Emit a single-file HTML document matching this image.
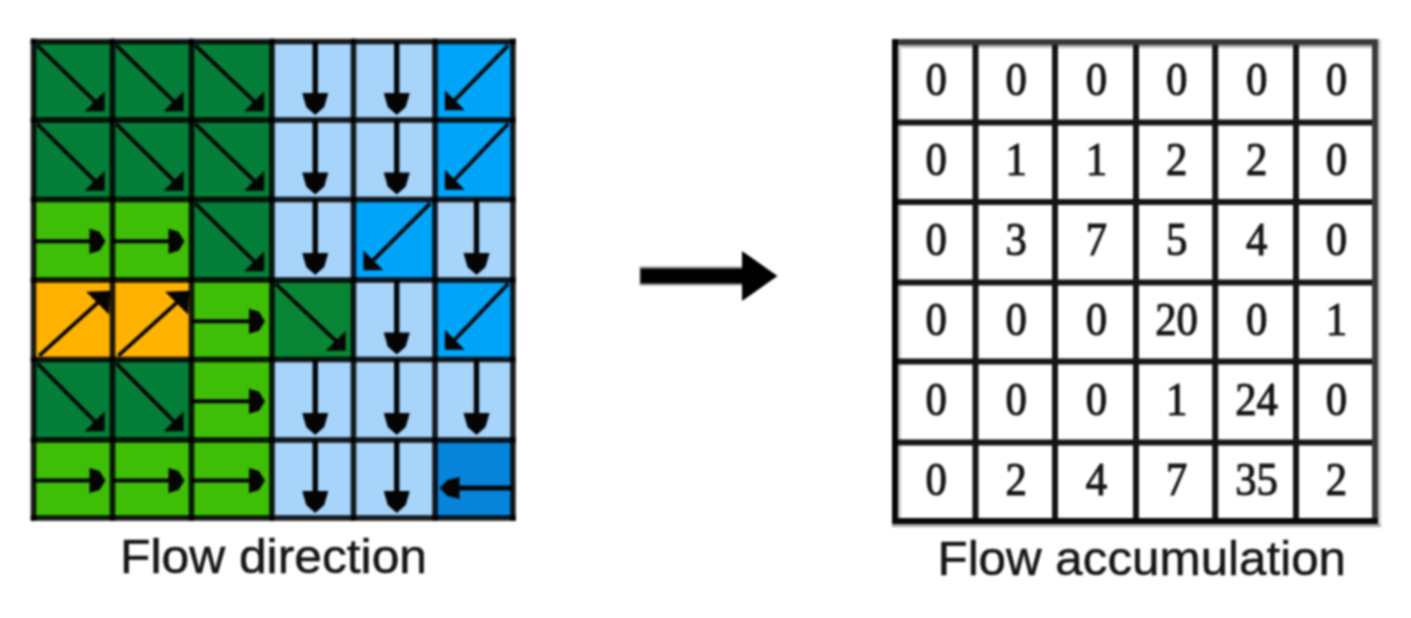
<!DOCTYPE html>
<html><head><meta charset="utf-8"><style>
html,body{margin:0;padding:0;background:#fff;width:1411px;height:618px;overflow:hidden}
svg{display:block;filter:blur(0.9px)}
.n{font-family:"Liberation Serif",serif;font-size:46px;text-anchor:middle;fill:#151515;stroke:#151515;stroke-width:1.1px}
.lab{font-family:"Liberation Sans",sans-serif;font-size:48px;fill:#151515;stroke:#151515;stroke-width:0.5px}
</style></head><body>
<svg width="1411" height="618" viewBox="0 0 1411 618">
<rect x="33.5" y="41.5" width="79" height="78.5" fill="rgb(4,126,56)"/>
<rect x="112.5" y="41.5" width="79" height="78.5" fill="rgb(4,126,56)"/>
<rect x="191.5" y="41.5" width="80.5" height="78.5" fill="rgb(4,126,56)"/>
<rect x="272" y="41.5" width="81.5" height="78.5" fill="rgb(167,212,251)"/>
<rect x="353.5" y="41.5" width="81.5" height="78.5" fill="rgb(167,212,251)"/>
<rect x="435" y="41.5" width="78" height="78.5" fill="rgb(0,165,250)"/>
<rect x="33.5" y="120" width="79" height="79.5" fill="rgb(4,126,56)"/>
<rect x="112.5" y="120" width="79" height="79.5" fill="rgb(4,126,56)"/>
<rect x="191.5" y="120" width="80.5" height="79.5" fill="rgb(4,126,56)"/>
<rect x="272" y="120" width="81.5" height="79.5" fill="rgb(167,212,251)"/>
<rect x="353.5" y="120" width="81.5" height="79.5" fill="rgb(167,212,251)"/>
<rect x="435" y="120" width="78" height="79.5" fill="rgb(0,165,250)"/>
<rect x="33.5" y="199.5" width="79" height="80.5" fill="rgb(62,190,6)"/>
<rect x="112.5" y="199.5" width="79" height="80.5" fill="rgb(62,190,6)"/>
<rect x="191.5" y="199.5" width="80.5" height="80.5" fill="rgb(4,126,56)"/>
<rect x="272" y="199.5" width="81.5" height="80.5" fill="rgb(167,212,251)"/>
<rect x="353.5" y="199.5" width="81.5" height="80.5" fill="rgb(0,165,250)"/>
<rect x="435" y="199.5" width="78" height="80.5" fill="rgb(167,212,251)"/>
<rect x="33.5" y="280" width="79" height="79.5" fill="rgb(255,178,0)"/>
<rect x="112.5" y="280" width="79" height="79.5" fill="rgb(255,178,0)"/>
<rect x="191.5" y="280" width="80.5" height="79.5" fill="rgb(62,190,6)"/>
<rect x="272" y="280" width="81.5" height="79.5" fill="rgb(8,134,53)"/>
<rect x="353.5" y="280" width="81.5" height="79.5" fill="rgb(167,212,251)"/>
<rect x="435" y="280" width="78" height="79.5" fill="rgb(0,165,250)"/>
<rect x="33.5" y="359.5" width="79" height="80.5" fill="rgb(4,126,56)"/>
<rect x="112.5" y="359.5" width="79" height="80.5" fill="rgb(4,126,56)"/>
<rect x="191.5" y="359.5" width="80.5" height="80.5" fill="rgb(62,190,6)"/>
<rect x="272" y="359.5" width="81.5" height="80.5" fill="rgb(167,212,251)"/>
<rect x="353.5" y="359.5" width="81.5" height="80.5" fill="rgb(167,212,251)"/>
<rect x="435" y="359.5" width="78" height="80.5" fill="rgb(167,212,251)"/>
<rect x="33.5" y="440" width="79" height="78" fill="rgb(62,190,6)"/>
<rect x="112.5" y="440" width="79" height="78" fill="rgb(62,190,6)"/>
<rect x="191.5" y="440" width="80.5" height="78" fill="rgb(62,190,6)"/>
<rect x="272" y="440" width="81.5" height="78" fill="rgb(167,212,251)"/>
<rect x="353.5" y="440" width="81.5" height="78" fill="rgb(167,212,251)"/>
<rect x="435" y="440" width="78" height="78" fill="rgb(5,132,218)"/>
<line x1="37.3" y1="45.3" x2="98.7" y2="105.2" stroke="#050505" stroke-width="3.8"/>
<polygon points="104.7,111.2 104.7,91.2 84.7,111.2" fill="#050505"/>
<line x1="116.3" y1="45.3" x2="177.7" y2="105.2" stroke="#050505" stroke-width="3.8"/>
<polygon points="183.7,111.2 183.7,91.2 163.7,111.2" fill="#050505"/>
<line x1="195.3" y1="45.3" x2="258.2" y2="105.2" stroke="#050505" stroke-width="3.8"/>
<polygon points="264.2,111.2 264.2,91.2 244.2,111.2" fill="#050505"/>
<line x1="315.25" y1="41.5" x2="315.25" y2="105" stroke="#050505" stroke-width="5.4"/>
<polygon points="302.25,93 328.25,93 324.25,107 315.25,115 306.25,107" fill="#050505"/>
<line x1="396.75" y1="41.5" x2="396.75" y2="105" stroke="#050505" stroke-width="5.4"/>
<polygon points="383.75,93 409.75,93 405.75,107 396.75,115 387.75,107" fill="#050505"/>
<line x1="508.2" y1="45.3" x2="450.8" y2="104.2" stroke="#050505" stroke-width="3.8"/>
<polygon points="444.8,110.2 444.8,90.2 464.8,110.2" fill="#050505"/>
<line x1="37.3" y1="123.8" x2="98.7" y2="184.7" stroke="#050505" stroke-width="3.8"/>
<polygon points="104.7,190.7 104.7,170.7 84.7,190.7" fill="#050505"/>
<line x1="116.3" y1="123.8" x2="177.7" y2="184.7" stroke="#050505" stroke-width="3.8"/>
<polygon points="183.7,190.7 183.7,170.7 163.7,190.7" fill="#050505"/>
<line x1="195.3" y1="123.8" x2="258.2" y2="184.7" stroke="#050505" stroke-width="3.8"/>
<polygon points="264.2,190.7 264.2,170.7 244.2,190.7" fill="#050505"/>
<line x1="315.25" y1="120" x2="315.25" y2="184.5" stroke="#050505" stroke-width="5.4"/>
<polygon points="302.25,172.5 328.25,172.5 324.25,186.5 315.25,194.5 306.25,186.5" fill="#050505"/>
<line x1="396.75" y1="120" x2="396.75" y2="184.5" stroke="#050505" stroke-width="5.4"/>
<polygon points="383.75,172.5 409.75,172.5 405.75,186.5 396.75,194.5 387.75,186.5" fill="#050505"/>
<line x1="508.2" y1="123.8" x2="450.8" y2="183.7" stroke="#050505" stroke-width="3.8"/>
<polygon points="444.8,189.7 444.8,169.7 464.8,189.7" fill="#050505"/>
<line x1="33.5" y1="241.25" x2="97.5" y2="241.25" stroke="#050505" stroke-width="4.2"/>
<polygon points="89.5,228.75 99.5,231.75 105.5,241.25 99.5,250.75 89.5,253.75" fill="#050505"/>
<line x1="112.5" y1="241.25" x2="176.5" y2="241.25" stroke="#050505" stroke-width="4.2"/>
<polygon points="168.5,228.75 178.5,231.75 184.5,241.25 178.5,250.75 168.5,253.75" fill="#050505"/>
<line x1="195.3" y1="203.3" x2="258.2" y2="265.2" stroke="#050505" stroke-width="3.8"/>
<polygon points="264.2,271.2 264.2,251.2 244.2,271.2" fill="#050505"/>
<line x1="315.25" y1="199.5" x2="315.25" y2="265" stroke="#050505" stroke-width="5.4"/>
<polygon points="302.25,253 328.25,253 324.25,267 315.25,275 306.25,267" fill="#050505"/>
<line x1="430.2" y1="203.3" x2="369.3" y2="264.2" stroke="#050505" stroke-width="3.8"/>
<polygon points="363.3,270.2 363.3,250.2 383.3,270.2" fill="#050505"/>
<line x1="476.5" y1="199.5" x2="476.5" y2="265" stroke="#050505" stroke-width="5.4"/>
<polygon points="463.5,253 489.5,253 485.5,267 476.5,275 467.5,267" fill="#050505"/>
<line x1="39.3" y1="355.7" x2="104.2" y2="296.8" stroke="#050505" stroke-width="3.8"/>
<polygon points="110.2,290.8 86.2,291.8 109.2,314.8" fill="#050505"/>
<line x1="118.3" y1="355.7" x2="183.2" y2="296.8" stroke="#050505" stroke-width="3.8"/>
<polygon points="189.2,290.8 165.2,291.8 188.2,314.8" fill="#050505"/>
<line x1="191.5" y1="321.25" x2="257" y2="321.25" stroke="#050505" stroke-width="4.2"/>
<polygon points="249,308.75 259,311.75 265,321.25 259,330.75 249,333.75" fill="#050505"/>
<line x1="275.8" y1="283.8" x2="339.7" y2="344.7" stroke="#050505" stroke-width="3.8"/>
<polygon points="345.7,350.7 345.7,330.7 325.7,350.7" fill="#050505"/>
<line x1="396.75" y1="280" x2="396.75" y2="344.5" stroke="#050505" stroke-width="5.4"/>
<polygon points="383.75,332.5 409.75,332.5 405.75,346.5 396.75,354.5 387.75,346.5" fill="#050505"/>
<line x1="508.2" y1="283.8" x2="450.8" y2="343.7" stroke="#050505" stroke-width="3.8"/>
<polygon points="444.8,349.7 444.8,329.7 464.8,349.7" fill="#050505"/>
<line x1="37.3" y1="363.3" x2="98.7" y2="425.2" stroke="#050505" stroke-width="3.8"/>
<polygon points="104.7,431.2 104.7,411.2 84.7,431.2" fill="#050505"/>
<line x1="116.3" y1="363.3" x2="177.7" y2="425.2" stroke="#050505" stroke-width="3.8"/>
<polygon points="183.7,431.2 183.7,411.2 163.7,431.2" fill="#050505"/>
<line x1="191.5" y1="401.25" x2="257" y2="401.25" stroke="#050505" stroke-width="4.2"/>
<polygon points="249,388.75 259,391.75 265,401.25 259,410.75 249,413.75" fill="#050505"/>
<line x1="315.25" y1="359.5" x2="315.25" y2="425" stroke="#050505" stroke-width="5.4"/>
<polygon points="302.25,413 328.25,413 324.25,427 315.25,435 306.25,427" fill="#050505"/>
<line x1="396.75" y1="359.5" x2="396.75" y2="425" stroke="#050505" stroke-width="5.4"/>
<polygon points="383.75,413 409.75,413 405.75,427 396.75,435 387.75,427" fill="#050505"/>
<line x1="476.5" y1="359.5" x2="476.5" y2="425" stroke="#050505" stroke-width="5.4"/>
<polygon points="463.5,413 489.5,413 485.5,427 476.5,435 467.5,427" fill="#050505"/>
<line x1="33.5" y1="480.5" x2="97.5" y2="480.5" stroke="#050505" stroke-width="4.2"/>
<polygon points="89.5,468 99.5,471 105.5,480.5 99.5,490 89.5,493" fill="#050505"/>
<line x1="112.5" y1="480.5" x2="176.5" y2="480.5" stroke="#050505" stroke-width="4.2"/>
<polygon points="168.5,468 178.5,471 184.5,480.5 178.5,490 168.5,493" fill="#050505"/>
<line x1="191.5" y1="480.5" x2="257" y2="480.5" stroke="#050505" stroke-width="4.2"/>
<polygon points="249,468 259,471 265,480.5 259,490 249,493" fill="#050505"/>
<line x1="315.25" y1="440" x2="315.25" y2="503" stroke="#050505" stroke-width="5.4"/>
<polygon points="302.25,491 328.25,491 324.25,505 315.25,513 306.25,505" fill="#050505"/>
<line x1="396.75" y1="440" x2="396.75" y2="503" stroke="#050505" stroke-width="5.4"/>
<polygon points="383.75,491 409.75,491 405.75,505 396.75,513 387.75,505" fill="#050505"/>
<line x1="513" y1="488" x2="447.5" y2="488" stroke="#050505" stroke-width="5.2"/>
<polygon points="459.5,477 447.5,480 439.5,488 447.5,496 459.5,499" fill="#050505"/>
<rect x="30.7" y="38.7" width="5.6" height="482.1" fill="rgba(0,0,0,0.88)"/>
<rect x="109.7" y="38.7" width="5.6" height="482.1" fill="rgba(0,0,0,0.88)"/>
<rect x="188.7" y="38.7" width="5.6" height="482.1" fill="rgba(0,0,0,0.88)"/>
<rect x="269.2" y="38.7" width="5.6" height="482.1" fill="rgba(0,0,0,0.88)"/>
<rect x="350.7" y="38.7" width="5.6" height="482.1" fill="rgba(0,0,0,0.88)"/>
<rect x="432.2" y="38.7" width="5.6" height="482.1" fill="rgba(0,0,0,0.88)"/>
<rect x="510.2" y="38.7" width="5.6" height="482.1" fill="rgba(0,0,0,0.88)"/>
<rect x="30.7" y="38.7" width="485.1" height="5.6" fill="rgba(0,0,0,0.88)"/>
<rect x="30.7" y="117.2" width="485.1" height="5.6" fill="rgba(0,0,0,0.88)"/>
<rect x="30.7" y="196.7" width="485.1" height="5.6" fill="rgba(0,0,0,0.88)"/>
<rect x="30.7" y="277.2" width="485.1" height="5.6" fill="rgba(0,0,0,0.88)"/>
<rect x="30.7" y="356.7" width="485.1" height="5.6" fill="rgba(0,0,0,0.88)"/>
<rect x="30.7" y="437.2" width="485.1" height="5.6" fill="rgba(0,0,0,0.88)"/>
<rect x="30.7" y="515.2" width="485.1" height="5.6" fill="rgba(0,0,0,0.88)"/>
<rect x="639.5" y="266.5" width="106" height="19" fill="#9a9a9a"/>
<rect x="640.5" y="268.5" width="106" height="15" fill="#000"/>
<polygon points="742,251 742,301 777.5,276" fill="#000"/>
<rect x="892" y="45" width="486" height="3" fill="#b8b8b8"/>
<rect x="898" y="45" width="3" height="476" fill="#c8c8c8"/>
<rect x="1378" y="39" width="3" height="488" fill="#cfcfcf"/>
<rect x="892" y="524" width="489" height="3" fill="#a8a8a8"/>
<rect x="972.5" y="42" width="6" height="479" fill="#151515"/>
<rect x="1052" y="42" width="6" height="479" fill="#151515"/>
<rect x="1133" y="42" width="6" height="479" fill="#151515"/>
<rect x="1212.2" y="42" width="6" height="479" fill="#151515"/>
<rect x="1293" y="42" width="6" height="479" fill="#151515"/>
<rect x="895" y="119.5" width="480" height="6" fill="#151515"/>
<rect x="895" y="199" width="480" height="6" fill="#151515"/>
<rect x="895" y="279.5" width="480" height="6" fill="#151515"/>
<rect x="895" y="358.5" width="480" height="6" fill="#151515"/>
<rect x="895" y="439.5" width="480" height="6" fill="#151515"/>
<rect x="892" y="39" width="486" height="6" fill="#383838"/>
<rect x="1372" y="39" width="6" height="485" fill="#3a3a3a"/>
<rect x="892" y="39" width="6" height="485" fill="#050505"/>
<rect x="892" y="518" width="486" height="6" fill="#080808"/>
<text transform="translate(936.25,95.25) scale(0.93,1)" class="n">0</text>
<text transform="translate(1016.25,95.25) scale(0.93,1)" class="n">0</text>
<text transform="translate(1096.5,95.25) scale(0.93,1)" class="n">0</text>
<text transform="translate(1176.6,95.25) scale(0.93,1)" class="n">0</text>
<text transform="translate(1256.6,95.25) scale(0.93,1)" class="n">0</text>
<text transform="translate(1336.5,95.25) scale(0.93,1)" class="n">0</text>
<text transform="translate(936.25,175.25) scale(0.93,1)" class="n">0</text>
<text transform="translate(1016.25,175.25) scale(0.93,1)" class="n">1</text>
<text transform="translate(1096.5,175.25) scale(0.93,1)" class="n">1</text>
<text transform="translate(1176.6,175.25) scale(0.93,1)" class="n">2</text>
<text transform="translate(1256.6,175.25) scale(0.93,1)" class="n">2</text>
<text transform="translate(1336.5,175.25) scale(0.93,1)" class="n">0</text>
<text transform="translate(936.25,255.25) scale(0.93,1)" class="n">0</text>
<text transform="translate(1016.25,255.25) scale(0.93,1)" class="n">3</text>
<text transform="translate(1096.5,255.25) scale(0.93,1)" class="n">7</text>
<text transform="translate(1176.6,255.25) scale(0.93,1)" class="n">5</text>
<text transform="translate(1256.6,255.25) scale(0.93,1)" class="n">4</text>
<text transform="translate(1336.5,255.25) scale(0.93,1)" class="n">0</text>
<text transform="translate(936.25,335) scale(0.93,1)" class="n">0</text>
<text transform="translate(1016.25,335) scale(0.93,1)" class="n">0</text>
<text transform="translate(1096.5,335) scale(0.93,1)" class="n">0</text>
<text transform="translate(1176.6,335) scale(0.93,1)" class="n">20</text>
<text transform="translate(1256.6,335) scale(0.93,1)" class="n">0</text>
<text transform="translate(1336.5,335) scale(0.93,1)" class="n">1</text>
<text transform="translate(936.25,415) scale(0.93,1)" class="n">0</text>
<text transform="translate(1016.25,415) scale(0.93,1)" class="n">0</text>
<text transform="translate(1096.5,415) scale(0.93,1)" class="n">0</text>
<text transform="translate(1176.6,415) scale(0.93,1)" class="n">1</text>
<text transform="translate(1256.6,415) scale(0.93,1)" class="n">24</text>
<text transform="translate(1336.5,415) scale(0.93,1)" class="n">0</text>
<text transform="translate(936.25,494.75) scale(0.93,1)" class="n">0</text>
<text transform="translate(1016.25,494.75) scale(0.93,1)" class="n">2</text>
<text transform="translate(1096.5,494.75) scale(0.93,1)" class="n">4</text>
<text transform="translate(1176.6,494.75) scale(0.93,1)" class="n">7</text>
<text transform="translate(1256.6,494.75) scale(0.93,1)" class="n">35</text>
<text transform="translate(1336.5,494.75) scale(0.93,1)" class="n">2</text>
<text x="120" y="572.5" class="lab" textLength="307" lengthAdjust="spacingAndGlyphs">Flow direction</text>
<text x="937.5" y="575" class="lab" textLength="408.5" lengthAdjust="spacingAndGlyphs">Flow accumulation</text>
</svg>
</body></html>
